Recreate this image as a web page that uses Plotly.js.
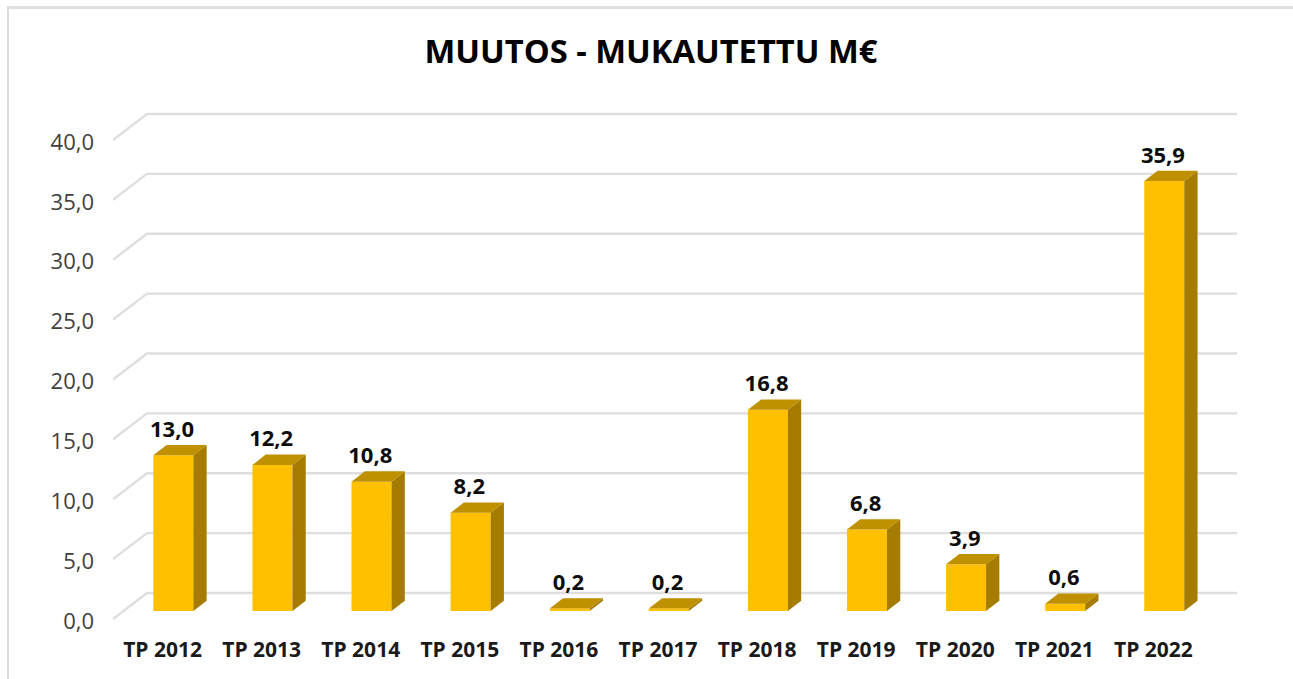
<!DOCTYPE html>
<html>
<head>
<meta charset="utf-8">
<script src="https://cdn.plot.ly/plotly-3.0.1.min.js"></script>
<style>
html,body{margin:0;padding:0;background:#fff;overflow:hidden}
#frame{position:absolute;left:7px;top:6px;width:1286px;height:673px;border-left:2px solid #dcdcdc;border-top:3px solid #e0e0e0;box-sizing:border-box}
#chart{position:absolute;left:0;top:0;width:1293px;height:679px}
</style>
</head>
<body>
<div id="chart"></div>
<div id="frame"></div>
<script>
const categories = ['TP 2012','TP 2013','TP 2014','TP 2015','TP 2016','TP 2017','TP 2018','TP 2019','TP 2020','TP 2021','TP 2022'];
const values = [13.0,12.2,10.8,8.2,0.2,0.2,16.8,6.8,3.9,0.6,35.9];
const yTicks = [0,5,10,15,20,25,30,35,40];

const W = 1293, H = 679;
const plotLeft = 113, plotRight = 1237, plotTop = 108, plotBottom = 625, zeroPx = 619;
const pxPerCat = 99.09, pxPerVal = 11.975;
const xMin = -0.5, xMax = xMin + (plotRight - plotLeft) / pxPerCat;
const yMin = (zeroPx - plotBottom) / pxPerVal, yMax = (zeroPx - plotTop) / pxPerVal;

// 3D geometry expressed in axis units
const wallDx = 34 / pxPerCat, wallDy = 26 / pxPerVal;
const wallEnd = xMax;
const barLift = 8 / pxPerVal;
const barOffset = -9.2 / pxPerCat, barWidth = 40 / pxPerCat;
const depthX = 13.3 / pxPerCat, depthY = 10.3 / pxPerVal;
const labelDx = 9.5 / pxPerCat, labelDy = 24 / pxPerVal;

const colFront = '#FFC000', colTop = '#BF9000', colSide = '#A67C00', colGrid = '#DEDEDE';
const fontName = '"Open Sans", sans-serif';

const idx = categories.map((_, i) => i);

const gridShapes = yTicks.map(v => ({
  type: 'path', layer: 'below', xref: 'x', yref: 'y',
  path: `M ${xMin} ${v} L ${xMin + wallDx} ${v + wallDy} L ${wallEnd} ${v + wallDy}`,
  line: {color: colGrid, width: 2.4}
}));

function faces(kind) {
  const xs = [], ys = [];
  values.forEach((v, i) => {
    const l = i + barOffset, r = l + barWidth, t = v + barLift, b = barLift;
    if (kind === 'top') {
      xs.push(l, r, r + depthX, l + depthX, l, null);
      ys.push(t, t, t + depthY, t + depthY, t, null);
    } else {
      xs.push(r, r + depthX, r + depthX, r, r, null);
      ys.push(b, b + depthY, t + depthY, t, b, null);
    }
  });
  return {x: xs, y: ys};
}

const traces = [
  {type: 'bar', x: idx, y: values, base: barLift, offset: barOffset, width: barWidth,
   marker: {color: colFront, line: {width: 0}}, hoverinfo: 'skip'},
  Object.assign({type: 'scatter', mode: 'lines', fill: 'toself', fillcolor: colSide,
   line: {width: 0, color: colSide}, hoverinfo: 'skip'}, faces('side')),
  Object.assign({type: 'scatter', mode: 'lines', fill: 'toself', fillcolor: colTop,
   line: {width: 0, color: colTop}, hoverinfo: 'skip'}, faces('top')),
  {type: 'scatter', mode: 'text', x: idx.map(i => i + labelDx), y: values.map(v => v + barLift + labelDy),
   text: values.map(v => v.toFixed(1).replace('.', ',')), textposition: 'middle center',
   textfont: {family: fontName, size: 22, color: '#0d0d0d', weight: 700},
   cliponaxis: false, hoverinfo: 'skip'}
];

const layout = {
  width: W, height: H, showlegend: false,
  paper_bgcolor: '#fff', plot_bgcolor: 'rgba(0,0,0,0)',
  separators: ',.',
  margin: {l: plotLeft, r: W - plotRight, t: plotTop, b: H - plotBottom, pad: 0},
  title: {text: '<b>MUUTOS - MUKAUTETTU M€</b>', x: 651 / W, xanchor: 'center', y: 1 - 52 / H, yanchor: 'middle',
          font: {family: fontName, size: 32.7, color: '#000'}},
  xaxis: {type: 'linear', range: [xMin, xMax], tickmode: 'array', tickvals: idx, ticktext: categories,
          showgrid: false, zeroline: false, showline: false, ticks: '', ticklabelstandoff: 10,
          tickfont: {family: fontName, size: 21, color: '#1a1a1a', weight: 700}},
  yaxis: {range: [yMin, yMax], tickmode: 'array', tickvals: yTicks, tickformat: '.1f',
          showgrid: false, zeroline: false, showline: false, ticks: '', ticklabelstandoff: 18, ticklabelshift: 2,
          tickfont: {family: fontName, size: 22, color: '#404040'}},
  shapes: gridShapes
};

Plotly.newPlot('chart', traces, layout, {displayModeBar: false, staticPlot: true});
</script>
</body>
</html>
